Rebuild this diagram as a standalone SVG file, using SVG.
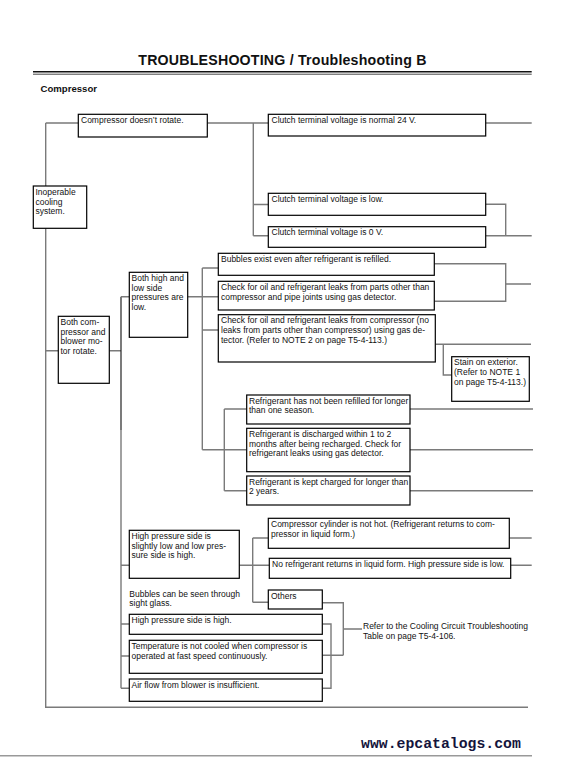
<svg xmlns="http://www.w3.org/2000/svg" width="573" height="760" viewBox="0 0 573 760">
<style>
.bx{fill:#fff;stroke:#000;stroke-width:1.2}
.t{font-family:"Liberation Sans",Arial,sans-serif;font-size:8.5px;fill:#111}
.c{fill:none;stroke:#7a7a7a;stroke-width:1.4}
.k{fill:none;stroke:#222;stroke-width:1.2}
</style>
<rect width="573" height="760" fill="#fff"/>
<text x="282.5" y="65" text-anchor="middle" font-family="Liberation Sans,Arial,sans-serif" font-weight="bold" font-size="14.2" letter-spacing="0.2" fill="#111">TROUBLESHOOTING / Troubleshooting B</text>
<line x1="33" y1="71.7" x2="531.7" y2="71.7" stroke="#111" stroke-width="1.6"/>
<line x1="33" y1="74.2" x2="531.7" y2="74.2" stroke="#333" stroke-width="0.9"/>
<text x="40.5" y="91.7" font-family="Liberation Sans,Arial,sans-serif" font-weight="bold" font-size="9.6" fill="#111">Compressor</text>
<g id="connectors">
<path class="c" d="M45.7 123H78.3M45.7 123V186"/>
<path class="c" d="M45.7 228.3V707.3H528"/>
<path class="c" d="M45.7 350.7H58.3M109.3 350.7H121"/>
<path class="k" d="M121 296.7V430"/>
<path class="c" d="M121 430V688.3M121 296.7H129.3M121 565.3H129.3M121 624H129.3M121 656H129.3M121 688.3H129.3"/>
<path class="c" d="M207.3 123H268.3M253.3 123V235.7M253.3 204.5H268.3M253.3 235.7H268.3"/>
<path class="c" d="M485.7 123H531.7M485.7 204.3H505.7V235.7M485.7 235.7H531.7"/>
<path class="c" d="M187.7 296.7H218.3M202.3 268V449.7M202.3 268H218.3M202.3 330H218.3M202.3 449.7H246.7"/>
<path class="c" d="M224.3 409V490.7M224.3 409H246.7M224.3 490.7H246.7"/>
<path class="c" d="M434.3 263.7H505.7V301.3H434.3M505.7 284H531"/>
<path class="c" d="M435.3 344.3H531M443.3 344.3V375H451.7"/>
<path class="c" d="M410 409H533M410 449.7H533M410 490.7H533"/>
<path class="c" d="M239.3 565.3H269.3M252.7 538V602.3M252.7 538H268.3M252.7 602.3H268.3"/>
<path class="c" d="M509.3 538H531.7M510.7 565.3H531.7"/>
<path class="c" d="M322.3 602.7H343.3V655.3M322.3 655.3H343.3M343.3 629H362"/>
<path class="c" d="M322.3 624H331V688.3H322.3"/>
</g>
<g id="n1"><rect class="bx" x="78.3" y="114.3" width="129" height="22.7"/><text class="t" x="81" y="122.8">Compressor doesn’t rotate.</text></g>
<g id="n2"><rect class="bx" x="33.3" y="186" width="53.4" height="42.3"/><text class="t" x="35.5" y="195">Inoperable</text><text class="t" x="35.5" y="204.7">cooling</text><text class="t" x="35.5" y="214.4">system.</text></g>
<g id="n3"><rect class="bx" x="268.3" y="114.3" width="217.4" height="21.7"/><text class="t" x="271.5" y="122.8">Clutch terminal voltage is normal 24 V.</text></g>
<g id="n4"><rect class="bx" x="268.3" y="193.3" width="217.4" height="22"/><text class="t" x="271.5" y="201.8">Clutch terminal voltage is low.</text></g>
<g id="n5"><rect class="bx" x="268.3" y="226.7" width="217.4" height="20.6"/><text class="t" x="271.5" y="235.2">Clutch terminal voltage is 0 V.</text></g>
<g id="n6"><rect class="bx" x="218.3" y="253.3" width="216" height="22"/><text class="t" x="221" y="261.8">Bubbles exist even after refrigerant is refilled.</text></g>
<g id="n7"><rect class="bx" x="218.3" y="281.3" width="216" height="28.7"/><text class="t" x="221" y="289.8">Check for oil and refrigerant leaks from parts other than</text><text class="t" x="221" y="299.5">compressor and pipe joints using gas detector.</text></g>
<g id="n8"><rect class="bx" x="218.3" y="314.7" width="217" height="47.3"/><text class="t" x="221" y="323.2">Check for oil and refrigerant leaks from compressor (no</text><text class="t" x="221" y="332.9">leaks from parts other than compressor) using gas de-</text><text class="t" x="221" y="342.6">tector. (Refer to NOTE 2 on page T5-4-113.)</text></g>
<g id="n9"><rect class="bx" x="451.7" y="356.7" width="77.6" height="44.6"/><text class="t" x="454" y="365.2">Stain on exterior.</text><text class="t" x="454" y="374.9">(Refer to NOTE 1</text><text class="t" x="454" y="384.6">on page T5-4-113.)</text></g>
<g id="n10"><rect class="bx" x="129.3" y="272.3" width="58.4" height="65"/><text class="t" x="131.5" y="280.8">Both high and</text><text class="t" x="131.5" y="290.5">low side</text><text class="t" x="131.5" y="300.2">pressures are</text><text class="t" x="131.5" y="309.9">low.</text></g>
<g id="n11"><rect class="bx" x="58.3" y="316.3" width="51" height="67"/><text class="t" x="60.5" y="324.8">Both com-</text><text class="t" x="60.5" y="334.5">pressor and</text><text class="t" x="60.5" y="344.2">blower mo-</text><text class="t" x="60.5" y="353.9">tor rotate.</text></g>
<g id="n12"><rect class="bx" x="246.7" y="395" width="163.3" height="29"/><text class="t" x="249" y="403.5">Refrigerant has not been refilled for longer</text><text class="t" x="249" y="413.2">than one season.</text></g>
<g id="n13"><rect class="bx" x="246.7" y="428.3" width="163.3" height="43.4"/><text class="t" x="249" y="436.8">Refrigerant is discharged within 1 to 2</text><text class="t" x="249" y="446.5">months after being recharged. Check for</text><text class="t" x="249" y="456.2">refrigerant leaks using gas detector.</text></g>
<g id="n14"><rect class="bx" x="246.7" y="476" width="163.3" height="29"/><text class="t" x="249" y="484.5">Refrigerant is kept charged for longer than</text><text class="t" x="249" y="494.2">2 years.</text></g>
<g id="n15"><rect class="bx" x="129.3" y="530.3" width="110" height="48"/><text class="t" x="131.5" y="538.8">High pressure side is</text><text class="t" x="131.5" y="548.5">slightly low and low pres-</text><text class="t" x="131.5" y="558.2">sure side is high.</text></g>
<g id="n16"><rect class="bx" x="268.3" y="518.3" width="241" height="30"/><text class="t" x="271" y="526.8">Compressor cylinder is not hot. (Refrigerant returns to com-</text><text class="t" x="271" y="536.5">pressor in liquid form.)</text></g>
<g id="n17"><rect class="bx" x="269.3" y="558.3" width="241.4" height="20"/><text class="t" x="272" y="566.8">No refrigerant returns in liquid form. High pressure side is low.</text></g>
<g id="n18"><rect class="bx" x="268.3" y="590" width="54" height="19"/><text class="t" x="271" y="598.5">Others</text></g>
<g id="n19"><text class="t" x="129.3" y="596.5">Bubbles can be seen through</text><text class="t" x="129.3" y="606.3">sight glass.</text></g>
<g id="n20"><rect class="bx" x="129.3" y="614.3" width="193" height="20"/><text class="t" x="131.5" y="622.8">High pressure side is high.</text></g>
<g id="n21"><rect class="bx" x="129.3" y="640.3" width="193" height="33"/><text class="t" x="131.5" y="648.8">Temperature is not cooled when compressor is</text><text class="t" x="131.5" y="658.5">operated at fast speed continuously.</text></g>
<g id="n22"><rect class="bx" x="129.3" y="679" width="193" height="22.3"/><text class="t" x="131.5" y="687.5">Air flow from blower is insufficient.</text></g>
<g id="n23"><text class="t" x="363" y="629">Refer to the Cooling Circuit Troubleshooting</text><text class="t" x="363" y="638.8">Table on page T5-4-106.</text></g>
<line x1="0" y1="755.7" x2="532" y2="755.7" stroke="#999" stroke-width="1.4"/>
<text x="361" y="747.7" font-family="Liberation Mono,Courier New,monospace" font-weight="bold" font-size="14.8" fill="#14143c">www.epcatalogs.com</text>
</svg>
